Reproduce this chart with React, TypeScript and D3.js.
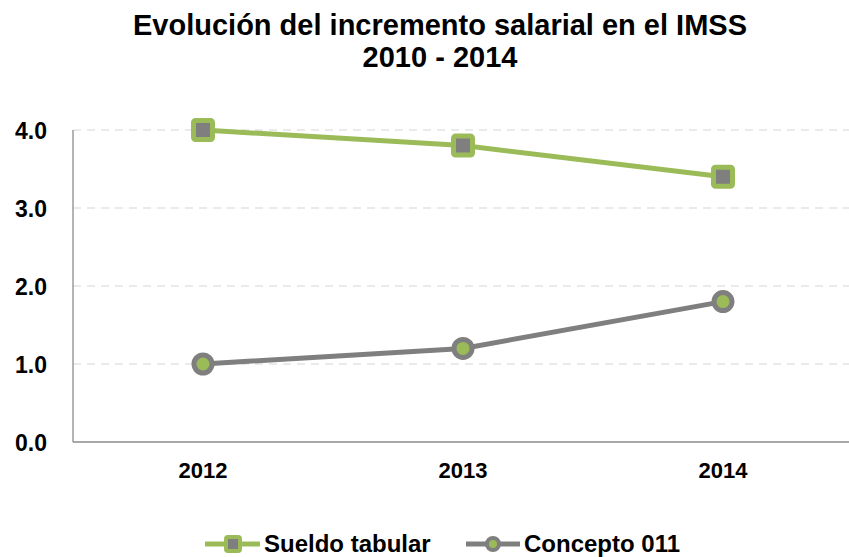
import * as d3 from 'd3';
import React, { useRef, useEffect } from 'react';

const years = ['2012', '2013', '2014'];
const sueldoTabular = [4.0, 3.8, 3.4];
const concepto011 = [1.0, 1.2, 1.8];
const yTicks = [0, 1, 2, 3, 4];

const W = 849;
const H = 557;
const plot = { left: 73, right: 853, top: 130, bottom: 442 };
const GREEN = '#9BBB59';
const GRAY = '#7F7F7F';
const FONT = "'Liberation Sans', Arial, sans-serif";

function App() {
  const ref = useRef<SVGSVGElement>(null);

  useEffect(() => {
    const svg = d3.select(ref.current);
    svg.selectAll('*').remove();

    const x = d3.scaleBand().domain(years).range([plot.left, plot.right]);
    const y = d3.scaleLinear().domain([0, 4]).range([plot.bottom, plot.top]);
    const cx = (d: string) => (x(d) as number) + x.bandwidth() / 2;

    // title
    const title = svg.append('text').attr('text-anchor', 'middle').attr('font-family', FONT)
      .attr('font-weight', 'bold').attr('font-size', 29).attr('fill', '#000');
    title.append('tspan').attr('x', 440).attr('y', 35).text('Evolución del incremento salarial en el IMSS');
    title.append('tspan').attr('x', 440).attr('y', 67).text('2010 - 2014');

    // grid
    svg.append('g').selectAll('line').data(yTicks.filter((t) => t > 0)).enter().append('line')
      .attr('x1', plot.left).attr('x2', W).attr('y1', (d) => y(d)).attr('y2', (d) => y(d))
      .attr('stroke', '#E3E3E3').attr('stroke-width', 1.3).attr('stroke-dasharray', '8,6');

    // axes lines
    svg.append('line').attr('x1', plot.left).attr('x2', plot.left).attr('y1', plot.top).attr('y2', plot.bottom)
      .attr('stroke', '#8C8C8C').attr('stroke-width', 1.3);
    svg.append('line').attr('x1', plot.left).attr('x2', W).attr('y1', plot.bottom).attr('y2', plot.bottom)
      .attr('stroke', '#8C8C8C').attr('stroke-width', 1.3);

    // y tick labels
    svg.append('g').selectAll('text').data(yTicks).enter().append('text')
      .attr('x', 47).attr('y', (d) => y(d) + 9).attr('text-anchor', 'end')
      .attr('font-family', FONT).attr('font-weight', 'bold').attr('font-size', 23)
      .text((d) => d.toFixed(1));

    // x tick labels
    svg.append('g').selectAll('text').data(years).enter().append('text')
      .attr('x', (d) => cx(d)).attr('y', 478).attr('text-anchor', 'middle')
      .attr('font-family', FONT).attr('font-weight', 'bold').attr('font-size', 22)
      .text((d) => d);

    const line = d3.line<number>().x((_, i) => cx(years[i])).y((d) => y(d));

    // Concepto 011
    svg.append('path').datum(concepto011).attr('d', line).attr('fill', 'none')
      .attr('stroke', GRAY).attr('stroke-width', 5);
    svg.append('g').selectAll('circle').data(concepto011).enter().append('circle')
      .attr('cx', (_, i) => cx(years[i])).attr('cy', (d) => y(d)).attr('r', 9)
      .attr('fill', GREEN).attr('stroke', GRAY).attr('stroke-width', 5);

    // Sueldo tabular
    svg.append('path').datum(sueldoTabular).attr('d', line).attr('fill', 'none')
      .attr('stroke', GREEN).attr('stroke-width', 5);
    svg.append('g').selectAll('rect').data(sueldoTabular).enter().append('rect')
      .attr('x', (_, i) => cx(years[i]) - 9.5).attr('y', (d) => y(d) - 9.5)
      .attr('width', 19).attr('height', 19).attr('rx', 2)
      .attr('fill', GRAY).attr('stroke', GREEN).attr('stroke-width', 5).attr('stroke-linejoin', 'round');

    // legend
    const lg = svg.append('g').attr('font-family', FONT).attr('font-weight', 'bold').attr('font-size', 24);
    const ly = 544;
    lg.append('line').attr('x1', 205).attr('x2', 260).attr('y1', ly).attr('y2', ly).attr('stroke', GREEN).attr('stroke-width', 5);
    lg.append('rect').attr('x', 226).attr('y', ly - 7).attr('width', 14).attr('height', 14).attr('rx', 2)
      .attr('fill', GRAY).attr('stroke', GREEN).attr('stroke-width', 4);
    lg.append('text').attr('x', 264).attr('y', ly + 8).text('Sueldo tabular');
    lg.append('line').attr('x1', 466).attr('x2', 520).attr('y1', ly).attr('y2', ly).attr('stroke', GRAY).attr('stroke-width', 5);
    lg.append('circle').attr('cx', 493).attr('cy', ly).attr('r', 6)
      .attr('fill', GREEN).attr('stroke', GRAY).attr('stroke-width', 4);
    lg.append('text').attr('x', 524).attr('y', ly + 8).text('Concepto 011');
  }, []);

  return (
    <svg ref={ref} width={W} height={H} style={{ position: 'absolute', left: 0, top: 0, background: '#fff' }} />
  );
}

export default App;
